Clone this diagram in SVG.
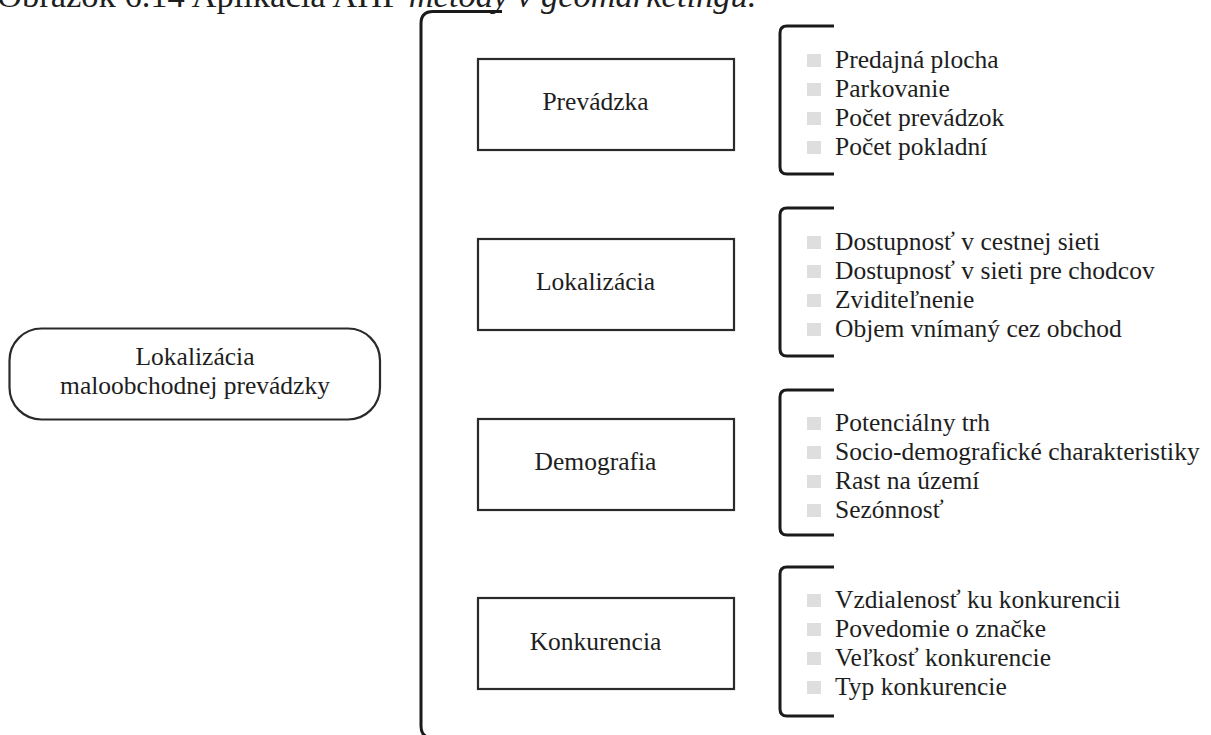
<svg xmlns="http://www.w3.org/2000/svg" width="1211" height="735" viewBox="0 0 1211 735">
<style>
  .t { font-family: "Liberation Serif", "Times New Roman", serif; font-size: 25.5px; fill: #1e1e1e; }
  .c { text-anchor: middle; }
  .box { fill: #fff; stroke: #2a2a2a; stroke-width: 2.2; }
  .br { fill: none; stroke: #1a1a1a; stroke-width: 3; }
  .bul { fill: #dedede; }
</style>
<rect width="1211" height="735" fill="#fff"/>
<text id="title" class="t" x="-3" y="7" style="font-size:34.5px">Obrázok 6.14 Aplikácia AHP <tspan font-style="italic">metódy v geomarketingu.</tspan></text>
<g id="connectors">
  <path class="br" d="M502,11.5 H433 Q421,11.5 421,23.5 V726 Q421,738 433,738 H480"/>
  <path class="br" d="M834,26 H787 Q780,26 780,33 V167 Q780,174 787,174 H834"/>
  <path class="br" d="M834,208 H787 Q780,208 780,215 V349 Q780,356 787,356 H834"/>
  <path class="br" d="M834,390 H787 Q780,390 780,397 V528 Q780,535 787,535 H834"/>
  <path class="br" d="M834,567 H787 Q780,567 780,574 V709 Q780,716 787,716 H834"/>
</g>
<g id="root">
  <rect class="box" x="9.5" y="328.5" width="370.5" height="91" rx="32" ry="32"/>
  <text class="t c" x="195" y="365">Lokalizácia</text>
  <text class="t c" x="195" y="394">maloobchodnej prevádzky</text>
</g>
<g id="prevadzka">
  <rect class="box" x="478" y="59" width="256" height="91"/>
  <text class="t c" x="595.5" y="110">Prevádzka</text>
</g>
<g id="lokalizacia">
  <rect class="box" x="478" y="239" width="256" height="91"/>
  <text class="t c" x="595.5" y="290">Lokalizácia</text>
</g>
<g id="demografia">
  <rect class="box" x="478" y="419" width="256" height="91"/>
  <text class="t c" x="595.5" y="470">Demografia</text>
</g>
<g id="konkurencia">
  <rect class="box" x="478" y="598" width="256" height="91"/>
  <text class="t c" x="595.5" y="650">Konkurencia</text>
</g>
<g id="list-prevadzka">
  <rect class="bul" x="807" y="54" width="14" height="13"/>
  <rect class="bul" x="807" y="83" width="14" height="13"/>
  <rect class="bul" x="807" y="112" width="14" height="13"/>
  <rect class="bul" x="807" y="141" width="14" height="13"/>
  <text class="t" x="835" y="68">Predajná plocha</text>
  <text class="t" x="835" y="97">Parkovanie</text>
  <text class="t" x="835" y="126">Počet prevádzok</text>
  <text class="t" x="835" y="155">Počet pokladní</text>
</g>
<g id="list-lokalizacia">
  <rect class="bul" x="807" y="236" width="14" height="13"/>
  <rect class="bul" x="807" y="265" width="14" height="13"/>
  <rect class="bul" x="807" y="294" width="14" height="13"/>
  <rect class="bul" x="807" y="323" width="14" height="13"/>
  <text class="t" x="835" y="250">Dostupnosť v cestnej sieti</text>
  <text class="t" x="835" y="279">Dostupnosť v sieti pre chodcov</text>
  <text class="t" x="835" y="308">Zviditeľnenie</text>
  <text class="t" x="835" y="337">Objem vnímaný cez obchod</text>
</g>
<g id="list-demografia">
  <rect class="bul" x="807" y="417" width="14" height="13"/>
  <rect class="bul" x="807" y="446" width="14" height="13"/>
  <rect class="bul" x="807" y="475" width="14" height="13"/>
  <rect class="bul" x="807" y="504" width="14" height="13"/>
  <text class="t" x="835" y="431">Potenciálny trh</text>
  <text class="t" x="835" y="460">Socio-demografické charakteristiky</text>
  <text class="t" x="835" y="489">Rast na území</text>
  <text class="t" x="835" y="518">Sezónnosť</text>
</g>
<g id="list-konkurencia">
  <rect class="bul" x="807" y="594" width="14" height="13"/>
  <rect class="bul" x="807" y="623" width="14" height="13"/>
  <rect class="bul" x="807" y="652" width="14" height="13"/>
  <rect class="bul" x="807" y="681" width="14" height="13"/>
  <text class="t" x="835" y="608">Vzdialenosť ku konkurencii</text>
  <text class="t" x="835" y="637">Povedomie o značke</text>
  <text class="t" x="835" y="666">Veľkosť konkurencie</text>
  <text class="t" x="835" y="695">Typ konkurencie</text>
</g>
</svg>
